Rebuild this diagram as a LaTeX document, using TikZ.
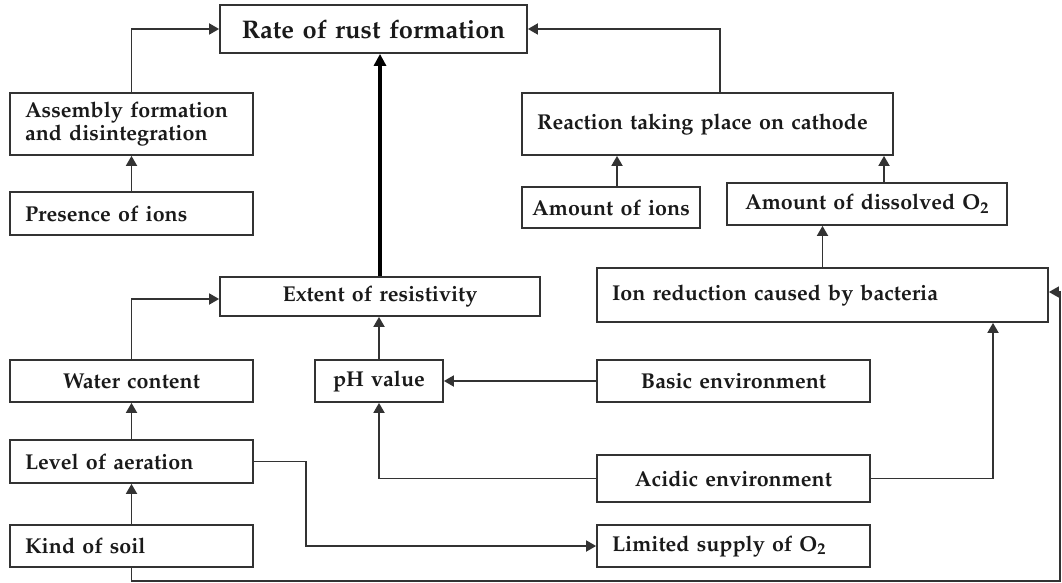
\documentclass[tikz,border=0pt]{standalone}
\usepackage[T1]{fontenc}
\usepackage{mathpazo}
\usetikzlibrary{arrows.meta,calc}
\definecolor{ln}{HTML}{333333}
\definecolor{tx}{HTML}{1A1A1A}
\begin{document}
\begin{tikzpicture}[x=1pt,y=-1pt,
  box/.style={draw=ln,line width=1.8pt,inner xsep=15pt,inner ysep=0pt,text=tx,
    font=\fontsize{21.5}{22.5}\selectfont\bfseries},
  lbox/.style={box,align=left},
  cbox/.style={box,align=center},
  con/.style={draw=ln,line width=1.8pt,-{Triangle[length=10pt,width=11pt]}},
  thick con/.style={draw=black,line width=3.8pt,-{Triangle[length=12pt,width=12pt]}}]
\useasboundingbox (0,0) rectangle (1062,583);
\fill[white] (0,0) rectangle (1062,583);
% boxes: (center) minimum width/height
\node[cbox,minimum width=307pt,minimum height=48pt,text width=281pt,inner xsep=13pt,font=\fontsize{25.5}{27}\selectfont\bfseries] (rate) at (373.5,29) {Rate of rust formation};
\node[lbox,minimum width=243pt,minimum height=62pt,text width=213pt] (asm) at (131.5,124) {Assembly formation\\and disintegration};
\node[lbox,minimum width=243pt,minimum height=43pt,text width=213pt] (pres) at (131.5,213.5) {Presence of ions};
\node[lbox,minimum width=371pt,minimum height=62pt,text width=341pt] (react) at (707.5,124) {Reaction taking place on cathode};
\node[cbox,minimum width=178pt,minimum height=41pt,text width=170pt,inner xsep=4pt] (ions) at (611,207.5) {Amount of ions};
\node[cbox,minimum width=280pt,minimum height=42pt,text width=260pt,inner xsep=10pt] (diss) at (867,204) {Amount of dissolved O\textsubscript{2}};
\node[lbox,minimum width=451pt,minimum height=54pt,text width=421pt] (ionr) at (822.5,295) {Ion reduction caused by bacteria};
\node[cbox,minimum width=320pt,minimum height=39pt,text width=290pt] (ext) at (380,296.5) {Extent of resistivity};
\node[cbox,minimum width=243pt,minimum height=42pt,text width=213pt] (water) at (131.5,381) {Water content};
\node[cbox,minimum width=128pt,minimum height=42pt,text width=120pt,inner xsep=4pt] (ph) at (379,381) {pH value};
\node[cbox,minimum width=273pt,minimum height=42pt,text width=243pt] (basic) at (733.5,381) {Basic environment};
\node[lbox,minimum width=243pt,minimum height=43pt,text width=213pt] (level) at (131.5,461.5) {Level of aeration};
\node[cbox,minimum width=273pt,minimum height=47pt,text width=243pt] (acid) at (733.5,478.5) {Acidic environment};
\node[lbox,minimum width=243pt,minimum height=42pt,text width=213pt] (kind) at (131.5,546) {Kind of soil};
\node[lbox,minimum width=273pt,minimum height=42pt,text width=243pt] (lim) at (733.5,546) {Limited supply of O\textsubscript{2}};
\coordinate (br) at (1060,581);
% connectors
\draw[con] (pres.north) -- (asm.south);
\draw[con] (asm.north) |- (rate.west);
\draw[con] ([xshift=12.5pt]react.north) |- (rate.east);
\draw[con] ([xshift=6pt]ions.north) -- ([xshift=6pt]ions.north |- react.south);
\draw[con] ([xshift=17pt]diss.north) -- ([xshift=17pt]diss.north |- react.south);
\draw[con] (ionr.north) -- (ionr.north |- diss.south);
\draw[thick con] (ext.north) -- (ext.north |- rate.south);
\draw[con] (water.north) |- ([yshift=-2.5pt]ext.west);
\draw[con] (ph.north) -- (ph.north |- ext.south);
\draw[con] (basic.west) -- (ph.east);
\draw[con] (acid.west) -| (ph.south);
\draw[con] (acid.east) -| ([xshift=170.5pt]ionr.south);
\draw[con] (level.north |- kind.north) -- (level.south);
\draw[con] (level.north) -- (water.south);
\draw[con] (level.east) -- ++(52,0) |- (lim.west);
\draw[con,line width=1.2pt] (kind.south) |- (br) |- ([yshift=3pt]ionr.east);
\end{tikzpicture}
\end{document}
